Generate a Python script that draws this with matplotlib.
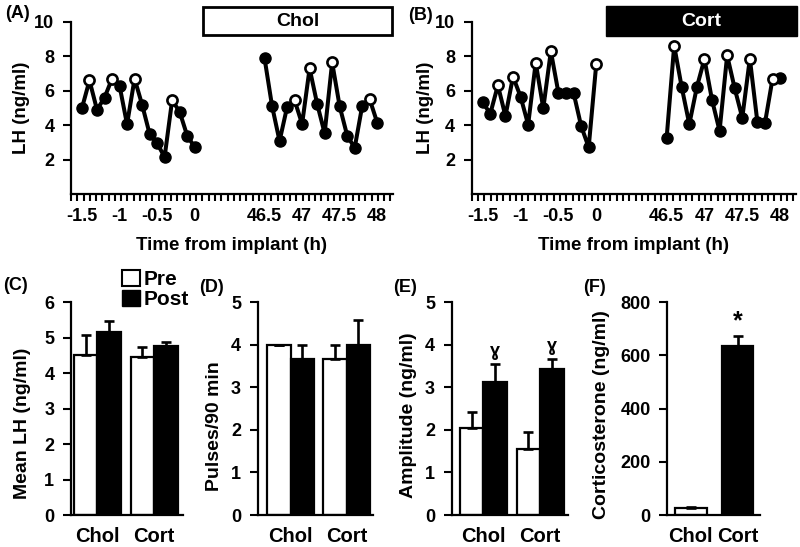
import numpy as np
import matplotlib
matplotlib.use('Agg')
import matplotlib.pyplot as plt
from matplotlib.patches import Rectangle, Patch

# ==============================================================================
# 数据区
# ==============================================================================
time_pre = [-1.5, -1.4, -1.3, -1.2, -1.1, -1.0, -0.9, -0.8,
            -0.7, -0.6, -0.5, -0.4, -0.3, -0.2, -0.1, 0.0]
time_post = [46.5, 46.6, 46.7, 46.8, 46.9, 47.0, 47.1, 47.2,
             47.3, 47.4, 47.5, 47.6, 47.7, 47.8, 47.9, 48.0]

lh_chol_pre = [5.0, 6.6, 4.9, 5.6, 6.7, 6.3, 4.05, 6.7, 5.2, 3.5, 2.95, 2.15, 5.45, 4.78, 3.4, 2.72]
pulse_chol_pre = [0, 1, 0, 0, 1, 0, 0, 1, 0, 0, 0, 0, 1, 0, 0, 0]
lh_chol_post = [7.9, 5.12, 3.08, 5.05, 5.45, 4.07, 7.3, 5.25, 3.53, 7.65, 5.1, 3.4, 2.68, 5.12, 5.5, 4.15]
pulse_chol_post = [0, 0, 0, 0, 1, 0, 1, 0, 0, 1, 0, 0, 0, 0, 1, 0]

lh_cort_pre = [5.32, 4.67, 6.32, 4.53, 6.82, 5.66, 4.03, 7.64, 4.98, 8.3, 5.89, 5.89, 5.89, 3.96, 2.71, 7.55]
pulse_cort_pre = [0, 0, 1, 0, 1, 0, 0, 1, 0, 1, 0, 0, 0, 0, 0, 1]
lh_cort_post = [3.24, 8.62, 6.2, 4.06, 6.22, 7.85, 5.47, 3.67, 8.06, 6.14, 4.43, 7.87, 4.17, 4.13, 6.7, 6.72]
pulse_cort_post = [0, 1, 0, 0, 0, 1, 0, 0, 1, 0, 0, 1, 0, 0, 1, 0]

pre_ticks = [-1.5, -1, -0.5, 0]
post_ticks = [46.5, 47, 47.5, 48]
pre_tick_labels = ['-1.5', '-1', '-0.5', '0']
post_tick_labels = ['46.5', '47', '47.5', '48']

groups = ['Chol', 'Cort']
mean_lh_pre = [4.5, 4.47]
mean_lh_pre_err = [0.57, 0.26]
mean_lh_post = [5.15, 4.77]
mean_lh_post_err = [0.33, 0.12]

pulses_pre = [4.0, 3.67]
pulses_pre_err = [0.0, 0.33]
pulses_post = [3.67, 4.0]
pulses_post_err = [0.33, 0.58]

amp_pre = [2.05, 1.55]
amp_pre_err = [0.38, 0.41]
amp_post = [3.13, 3.43]
amp_post_err = [0.42, 0.23]

cort_level = [25, 637]
cort_level_err = [4, 36]

# ==============================================================================
# 样式
# ==============================================================================
plt.rcParams['font.family'] = ['Liberation Sans', 'DejaVu Sans']
plt.rcParams['font.weight'] = 'bold'
plt.rcParams['axes.labelweight'] = 'bold'
plt.rcParams['axes.linewidth'] = 1.6

W, H = 800, 547
fig = plt.figure(figsize=(8, 5.47), dpi=100)


def px_axes(left, top, right, bottom):
    return fig.add_axes([left / W, 1 - bottom / H, (right - left) / W, (bottom - top) / H])


GAP = 45.57  # 断轴偏移: 46.5h 画在 0.93 处


def lh_panel(ax, pre, pulse_pre, post, pulse_post):
    xs_pre = np.array(time_pre)
    xs_post = np.array(time_post) - GAP
    for xs, ys, pl in [(xs_pre, np.array(pre), np.array(pulse_pre, bool)),
                       (xs_post, np.array(post), np.array(pulse_post, bool))]:
        ax.plot(xs, ys, '-', color='black', lw=2.9, zorder=2)
        ax.plot(xs[~pl], ys[~pl], 'o', color='black', ms=8, zorder=3)
        ax.plot(xs[pl], ys[pl], 'o', mfc='white', mec='black', mew=1.9, ms=7.3, zorder=4)
    x0, x1 = -1.646, 2.64
    ax.set_xlim(x0, x1)
    ax.set_ylim(0, 10)
    ax.set_yticks([2, 4, 6, 8, 10])
    ax.set_xticks(list(pre_ticks) + [t - GAP for t in post_ticks])
    ax.set_xticklabels(pre_tick_labels + post_tick_labels)
    ax.set_xticks(np.arange(x0, x1 + 0.01, 1 / 12), minor=True)
    ax.tick_params(axis='x', which='major', length=0, pad=10, labelsize=13)
    ax.tick_params(axis='x', which='minor', length=5, width=1.5, direction='out')
    ax.tick_params(axis='y', length=6, width=1.5, pad=6, labelsize=13)
    for s in ['top', 'right']:
        ax.spines[s].set_visible(False)
    ax.set_ylabel('LH (ng/ml)', fontsize=13.5)
    ax.set_xlabel('Time from implant (h)', fontsize=13.5)


axA = px_axes(71, 22, 393, 194)
lh_panel(axA, lh_chol_pre, pulse_chol_pre, lh_chol_post, pulse_chol_post)
axA.yaxis.label.set_va('center')
axA.yaxis.set_label_coords(-0.155, 0.5)
axA.xaxis.label.set_va('center')
axA.xaxis.set_label_coords(0.5, -0.297)

axB = px_axes(471.7, 22, 796, 194)
lh_panel(axB, lh_cort_pre, pulse_cort_pre, lh_cort_post, pulse_cort_post)
axB.yaxis.label.set_va('center')
axB.yaxis.set_label_coords(-0.141, 0.5)
axB.xaxis.label.set_va('center')
axB.xaxis.set_label_coords(0.5, -0.297)

# 处理框
fig.patches.append(Rectangle((203 / W, 1 - 35 / H), (392 - 203) / W, 28 / H,
                             transform=fig.transFigure, fc='white', ec='black', lw=2))
fig.text(297.5 / W, 1 - 21 / H, 'Chol', ha='center', va='center', fontsize=14)
fig.patches.append(Rectangle((606 / W, 1 - 36 / H), (797 - 606) / W, 30 / H,
                             transform=fig.transFigure, fc='black', ec='black', lw=1))
fig.text(701.5 / W, 1 - 21 / H, 'Cort', ha='center', va='center', fontsize=14, color='white')


def bar_panel(ax, pre, pre_err, post, post_err, ylim, yticks, ylabel, xlim, lab_xy):
    centers = np.array([0.5, 1.5])
    w = 0.415
    ax.bar(centers - w / 2, pre, w, color='white', edgecolor='black', lw=1.6,
           yerr=[[0, 0], pre_err], capsize=3.6, error_kw=dict(lw=1.9, capthick=1.9), zorder=2)
    ax.bar(centers + w / 2, post, w, color='black', edgecolor='black', lw=1.6,
           yerr=[[0, 0], post_err], capsize=3.6, error_kw=dict(lw=1.9, capthick=1.9), zorder=2)
    ax.set_xlim(*xlim)
    ax.set_ylim(*ylim)
    ax.set_yticks(yticks)
    ax.set_xticks(centers)
    ax.set_xticklabels(groups)
    ax.tick_params(axis='x', length=0, pad=9, labelsize=14.5)
    ax.tick_params(axis='y', length=6, width=1.5, pad=6, labelsize=13)
    for s in ['top', 'right']:
        ax.spines[s].set_visible(False)
    ax.set_ylabel(ylabel, fontsize=14)
    ax.yaxis.label.set_va('center')
    ax.yaxis.set_label_coords(*lab_xy)
    return centers, w


axC = px_axes(71, 302.3, 183, 515)
bar_panel(axC, mean_lh_pre, mean_lh_pre_err, mean_lh_post, mean_lh_post_err,
          (0, 6), range(0, 7), 'Mean LH (ng/ml)', (0.036, 2.01), (-0.43, 0.43))
axC.legend(handles=[Patch(fc='white', ec='black', lw=1.5), Patch(fc='black', ec='black')],
           labels=['Pre', 'Post'], loc='upper left', bbox_to_anchor=(122 / W, 1 - 270 / H),
           bbox_transform=fig.transFigure, frameon=False, fontsize=15,
           handlelength=0.85, handleheight=0.8, handletextpad=0.2,
           labelspacing=0.05, borderpad=0, borderaxespad=0)

axD = px_axes(257.7, 302.3, 373.3, 515)
bar_panel(axD, pulses_pre, pulses_pre_err, pulses_post, pulses_post_err,
          (0, 5), range(0, 6), 'Pulses/90 min', (-0.09, 1.975), (-0.37, 0.42))

axE = px_axes(451.7, 302.3, 568, 515)
cE, wE = bar_panel(axE, amp_pre, amp_pre_err, amp_post, amp_post_err,
                   (0, 5), range(0, 6), 'Amplitude (ng/ml)', (-0.057, 1.99), (-0.37, 0.47))
for xc, v, e in zip(cE + wE / 2, amp_post, amp_post_err):
    axE.annotate('ɣ', xy=(xc, v + e), xytext=(0, 3), textcoords='offset points',
                 ha='center', va='bottom', fontsize=13)

# (F) 皮质酮
axF = px_axes(667.3, 302.3, 760, 515)
xF = np.array([0.5, 1.5])
axF.bar(xF, cort_level, 0.68, color=['white', 'black'], edgecolor='black', lw=1.6,
        yerr=[[0, 0], cort_level_err], capsize=3.6, error_kw=dict(lw=1.9, capthick=1.9))
axF.set_xlim(0, 1.98)
axF.set_ylim(0, 800)
axF.set_yticks(range(0, 801, 200))
axF.set_xticks(xF)
axF.set_xticklabels(groups)
axF.tick_params(axis='x', length=0, pad=9, labelsize=14.5)
axF.tick_params(axis='y', length=6, width=1.5, pad=6, labelsize=13)
for s in ['top', 'right']:
    axF.spines[s].set_visible(False)
axF.set_ylabel('Corticosterone (ng/ml)', fontsize=14)
axF.yaxis.label.set_va('center')
axF.yaxis.set_label_coords(-0.715, 0.47)
axF.annotate('*', xy=(xF[1], cort_level[1] + cort_level_err[1]), xytext=(0, 2),
             textcoords='offset points', ha='center', va='bottom', fontsize=18)

# 面板标签
for lab, x, y in [('(A)', 5, 14), ('(B)', 408, 16), ('(C)', 3, 285),
                  ('(D)', 199, 287), ('(E)', 393, 287), ('(F)', 583, 288)]:
    fig.text(x / W, 1 - y / H, lab, ha='left', va='center', fontsize=13)

fig.savefig('out.png', dpi=100)
